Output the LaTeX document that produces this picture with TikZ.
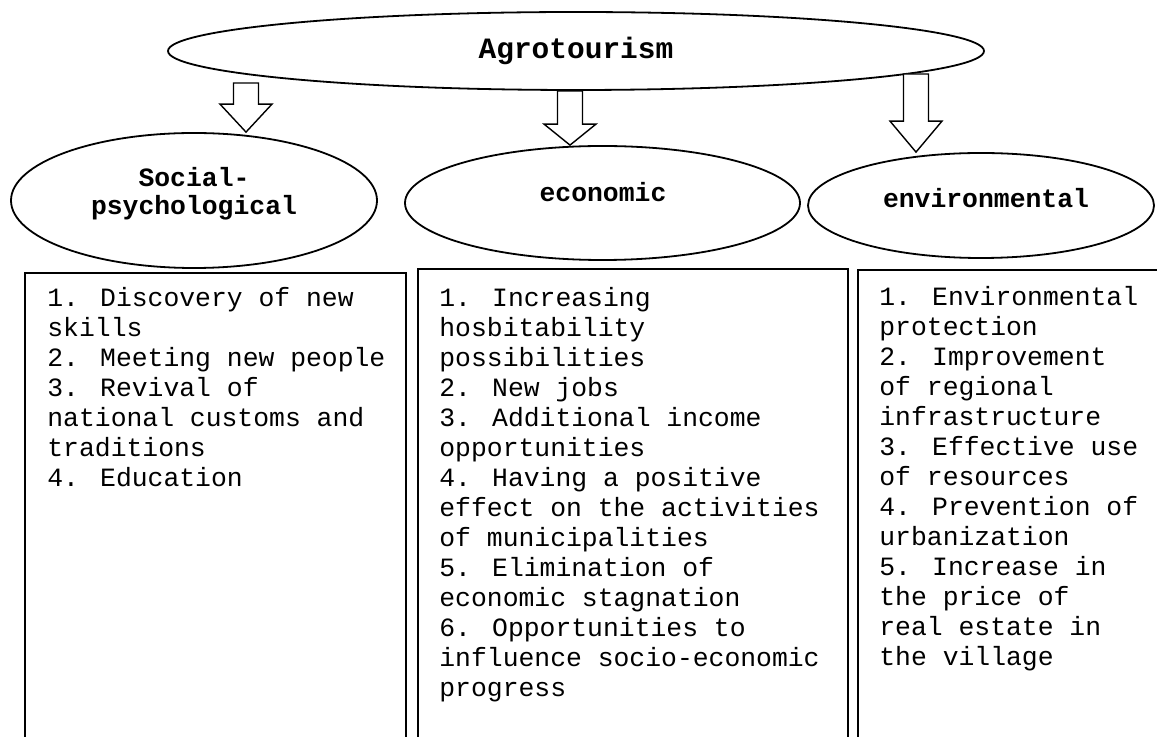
\documentclass[tikz,border=0pt]{standalone}
\usepackage{fontspec}
\newfontfamily\cour{Liberation Mono}
\usetikzlibrary{shapes.geometric,calc}

\tikzset{
  oval/.style={draw, ellipse, line width=0.9pt, inner sep=0pt},
  heading/.style={font=\cour\bfseries\fontsize{13.2}{14}\selectfont, align=center, inner sep=0pt},
  listtext/.style={anchor=base west, align=left, inner sep=0pt, font=\cour\fontsize{13.2}{15}\selectfont},
  frame/.style={line width=0.7pt},
  arrowbody/.style={draw, fill=white, line width=0.7pt, line join=miter}
}
% hollow block arrow: start, tip, head length
\newcommand{\blockarrow}[3]{%
  \draw[arrowbody] ($(#1)+(-12.5,0)$) -- ($(#1)+(12.5,0)$) -- ($(#2)+(12.5,-#3)$)
    -- ($(#2)+(26,-#3)$) -- (#2) -- ($(#2)+(-26,-#3)$) -- ($(#2)+(-12.5,-#3)$) -- cycle;}

\begin{document}
\begin{tikzpicture}[x=0.5pt, y=-0.5pt]
    \useasboundingbox (0,0) rectangle (1157,737);
    \clip (0,0) rectangle (1157,737);

    % Ellipses
    \node[oval, minimum width=408pt, minimum height=39pt,
          font=\cour\bfseries\fontsize{14.75}{16}\selectfont] (agro) at (576,51) {Agrotourism};
    \node[oval, minimum width=183pt, minimum height=67.5pt] (social) at (194,200.5) {};
    \node[oval, minimum width=197.5pt, minimum height=57pt] (econ) at (602.5,203) {};
    \node[oval, minimum width=173pt, minimum height=52.5pt] (envi) at (981,205.5) {};

    % Ellipse labels
    \node[heading] (socialtxt) at (194,194) {Social-\\psychological};
    \node[heading] (econtxt) at (603,192) {economic};
    \node[heading] (envitxt) at (986,198) {environmental};

    % Arrows
    \coordinate (s1) at (246,83);
    \coordinate (s2) at (agro.south -| 570,0);
    \coordinate (s3) at (916,74);
    \coordinate (t1) at (social.north -| s1);
    \coordinate (t2) at (econ.north -| s2);
    \coordinate (t3) at (envi.north -| s3);
    \blockarrow{s1}{t1}{28}
    \blockarrow{s2}{t2}{21}
    \blockarrow{s3}{t3}{31}

    % Boxes
    \draw[frame] (25,273) rectangle (406,770);
    \draw[frame] (418,269) rectangle (848,770);
    \draw[frame] (858,270) rectangle (1180,770);

    % Box texts (anchored at the baseline of the last line)
    \node[listtext] (sociallist) at (47,487) {1. Discovery of new\\skills\\2. Meeting new people\\3. Revival of\\national customs and\\traditions\\4. Education};
    \node[listtext] (econlist) at (439,696) {1. Increasing\\hosbitability\\possibilities\\2. New jobs\\3. Additional income\\opportunities\\4. Having a positive\\effect on the activities\\of municipalities\\5. Elimination of\\economic stagnation\\6. Opportunities to\\influence socio-economic\\progress};
    \node[listtext] (envilist) at (879,665) {1. Environmental\\protection\\2. Improvement\\of regional\\infrastructure\\3. Effective use\\of resources\\4. Prevention of\\urbanization\\5. Increase in\\the price of\\real estate in\\the village};
\end{tikzpicture}
\end{document}
